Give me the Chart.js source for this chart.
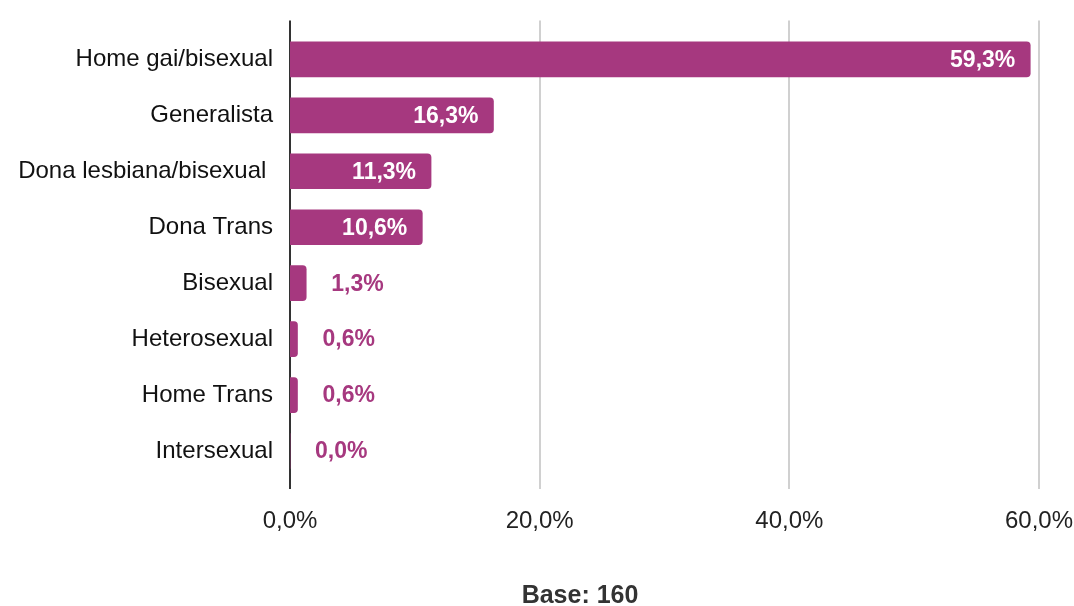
<!DOCTYPE html>
<html>
<head>
<meta charset="utf-8">
<script src="https://cdn.jsdelivr.net/npm/chart.js@4.4.1/dist/chart.umd.min.js"></script>
<style>
  html, body { margin: 0; padding: 0; background: #fff; }
  #wrap { width: 1074px; height: 606px; position: relative; }
</style>
</head>
<body>
<div id="wrap"><canvas id="barChart" width="1074" height="606"></canvas></div>
<script>
// Categories and values (percent)
const categories = ['Home gai/bisexual', 'Generalista', 'Dona lesbiana/bisexual ', 'Dona Trans', 'Bisexual', 'Heterosexual', 'Home Trans', 'Intersexual'];
const percentages = [59.3, 16.3, 11.3, 10.6, 1.3, 0.6, 0.6, 0.0];
const xTicks = [0, 20, 40, 60];
const baseNote = 'Base: 160';

const barColor = '#a6387f';
const fontFamily = 'Liberation Sans';
Chart.defaults.font.family = fontFamily;

const fmt = v => v.toFixed(1).replace('.', ',') + '%';

// draws value labels, inside the bar for big ones, outside for small
const valueLabels = {
    id: 'valueLabels',
    afterDatasetsDraw(chart) {
        const ctx = chart.ctx;
        const meta = chart.getDatasetMeta(0);
        ctx.save();
        ctx.font = 'bold 23px "' + fontFamily + '"';
        ctx.textBaseline = 'middle';
        meta.data.forEach((bar, i) => {
            const v = percentages[i];
            if (v >= 5) {
                ctx.fillStyle = '#ffffff';
                ctx.textAlign = 'right';
                ctx.fillText(fmt(v), bar.x - 15, bar.y + 1);
            } else {
                ctx.fillStyle = barColor;
                ctx.textAlign = 'left';
                ctx.fillText(fmt(v), bar.x + 25, bar.y + 1);
            }
        });
        ctx.restore();
    }
};

// vertical grid lines a bit longer than the plot area
const gridLines = {
    id: 'gridLines',
    beforeDatasetsDraw(chart) {
        const ctx = chart.ctx;
        const xs = chart.scales.x;
        const area = chart.chartArea;
        ctx.save();
        xTicks.forEach(t => {
            const px = Math.round(xs.getPixelForValue(t));
            ctx.beginPath();
            ctx.lineWidth = 2;
            ctx.strokeStyle = t === 0 ? '#333333' : '#d0d0d0';
            ctx.moveTo(px, area.top - 11);
            ctx.lineTo(px, area.bottom + 10);
            ctx.stroke();
        });
        ctx.restore();
    }
};

// footnote under the axis
const footNote = {
    id: 'footNote',
    afterDraw(chart) {
        const ctx = chart.ctx;
        ctx.save();
        ctx.font = 'bold 25px "' + fontFamily + '"';
        ctx.fillStyle = '#333333';
        ctx.textAlign = 'center';
        ctx.textBaseline = 'middle';
        ctx.fillText(baseNote, 580, 596);
        ctx.restore();
    }
};

const ctx = document.getElementById('barChart').getContext('2d');
const chart = new Chart(ctx, {
    type: 'bar',
    data: {
        labels: categories,
        datasets: [{
            data: percentages,
            backgroundColor: barColor,
            borderRadius: 4,
            borderSkipped: 'start',
            barThickness: 35
        }]
    },
    options: {
        indexAxis: 'y',
        responsive: false,
        animation: false,
        layout: { padding: { top: 28, right: 35, left: 0, bottom: 0 } },
        plugins: {
            legend: { display: false },
            tooltip: { enabled: false }
        },
        scales: {
            x: {
                min: 0,
                max: 60,
                afterBuildTicks: axis => { axis.ticks = xTicks.map(v => ({ value: v })); },
                afterFit: axis => { axis.height = 127; axis.paddingRight = 0; axis.paddingLeft = 0; },
                grid: { display: false, drawTicks: false },
                border: { display: false },
                ticks: {
                    padding: 28,
                    color: '#222222',
                    font: { size: 24 },
                    callback: v => fmt(v)
                }
            },
            y: {
                afterFit: axis => { axis.width = 290; },
                grid: { display: false, drawTicks: false },
                border: { display: false },
                ticks: {
                    padding: 17,
                    color: '#111111',
                    font: { size: 24 }
                }
            }
        }
    },
    plugins: [gridLines, valueLabels, footNote]
});
</script>
</body>
</html>
